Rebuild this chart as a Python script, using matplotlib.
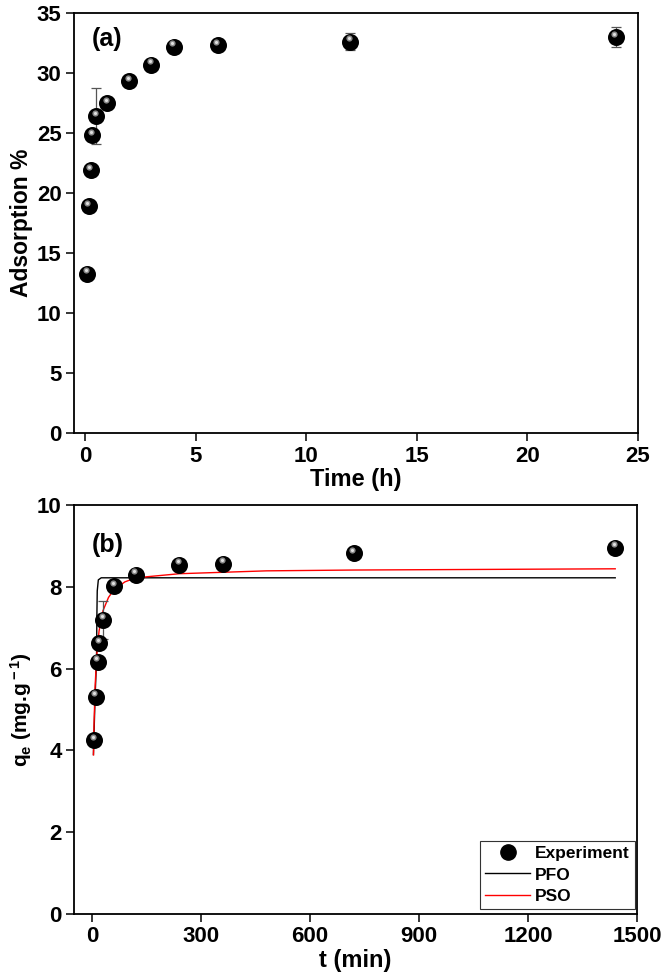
import matplotlib
matplotlib.use("Agg")
import matplotlib.pyplot as plt
import matplotlib.transforms as mtransforms
from matplotlib.lines import Line2D

plt.rcParams['font.family'] = ['Liberation Sans', 'DejaVu Sans']
plt.rcParams['font.weight'] = 'bold'
plt.rcParams['mathtext.fontset'] = 'custom'
plt.rcParams['mathtext.rm'] = 'Liberation Sans:bold'
plt.rcParams['mathtext.it'] = 'Liberation Sans:bold'
plt.rcParams['mathtext.bf'] = 'Liberation Sans:bold'

# (a) adsorption % vs time (h)
time_h = [0.083, 0.167, 0.25, 0.333, 0.5, 1, 2, 3, 4, 6, 12, 24]
adsorption = [13.3, 18.9, 21.9, 24.8, 26.4, 27.5, 29.3, 30.7, 32.2, 32.3, 32.6, 33.0]
adsorption_err = [0, 0, 0, 0, 2.35, 0, 0, 0, 0, 0, 0.7, 0.8]

# (b) qe vs t (min)
time_min = [5, 10, 15, 20, 30, 60, 120, 240, 360, 720, 1440]
qe = [4.25, 5.31, 6.17, 6.62, 7.19, 8.02, 8.29, 8.54, 8.56, 8.82, 8.95]
qe_err = [0, 0, 0, 0, 0.46, 0, 0, 0, 0, 0, 0]

# fitted curves
pfo_t = [3.5, 8, 12, 13, 14, 17, 25, 1440]
pfo_q = [3.9, 5.3, 6.2, 7.3, 7.9, 8.17, 8.22, 8.22]
pso_t = [3.6, 5, 8, 12, 19, 30, 45, 60, 90, 120, 240, 480, 720, 1440]
pso_q = [3.89, 4.58, 5.53, 6.26, 6.92, 7.42, 7.74, 7.93, 8.12, 8.22, 8.32, 8.39, 8.41, 8.44]

W, H = 661, 976
fig = plt.figure(figsize=(W / 100, H / 100), dpi=100)
ax_a = fig.add_axes([74 / W, 1 - 433.3 / H, 564 / W, 420.3 / H])
ax_b = fig.add_axes([74 / W, 1 - 914 / H, 563 / W, 409 / H])


def sphere(ax, x, y):
    # dark ball with a soft light spot, like the Origin sphere symbol
    ax.scatter(x, y, s=150, color='black', zorder=4, linewidths=0)
    off = mtransforms.ScaledTranslation(-1.0 / 72, 2.5 / 72, fig.dpi_scale_trans)
    ax.scatter(x, y, s=20, color='#8a8a8a', zorder=5, linewidths=0,
               transform=ax.transData + off)
    ax.scatter(x, y, s=5, color='#e0e0e0', zorder=6, linewidths=0,
               transform=ax.transData + off)


def style(ax):
    for sp in ax.spines.values():
        sp.set_linewidth(1.3)
    ax.tick_params(direction='out', length=6, width=1.1, labelsize=16,
                   top=False, right=False, pad=3)
    for lab in ax.get_xticklabels() + ax.get_yticklabels():
        lab.set_fontweight('bold')


# panel (a)
ax_a.errorbar(time_h, adsorption, yerr=adsorption_err, fmt='none',
              ecolor='#555555', elinewidth=0.9, capsize=3.5, capthick=0.9, zorder=3)
sphere(ax_a, time_h, adsorption)
ax_a.set_xlim(-0.5, 25)
ax_a.set_ylim(0, 35)
ax_a.set_xticks([0, 5, 10, 15, 20, 25])
ax_a.set_yticks([0, 5, 10, 15, 20, 25, 30, 35])
ax_a.set_xlabel('Time (h)', fontsize=17, fontweight='bold', labelpad=1)
ax_a.set_ylabel('Adsorption %', fontsize=16.5, fontweight='bold', labelpad=3)
ax_a.text(0.032, 0.967, '(a)', transform=ax_a.transAxes, fontsize=18,
          fontweight='bold', ha='left', va='top')
style(ax_a)

# panel (b)
ax_b.errorbar(time_min, qe, yerr=qe_err, fmt='none',
              ecolor='#555555', elinewidth=0.9, capsize=3.5, capthick=0.9, zorder=3)
ax_b.plot(pfo_t, pfo_q, color='black', lw=1.0, zorder=2)
ax_b.plot(pso_t, pso_q, color='red', lw=1.0, zorder=2)
sphere(ax_b, time_min, qe)
ax_b.set_xlim(-50, 1500)
ax_b.set_ylim(0, 10)
ax_b.set_xticks([0, 300, 600, 900, 1200, 1500])
ax_b.set_yticks([0, 2, 4, 6, 8, 10])
ax_b.set_xlabel('t (min)', fontsize=17, fontweight='bold', labelpad=1)
ax_b.set_ylabel(r'q$_{\rm e}$ (mg.g$^{\rm -1}$)', fontsize=15, fontweight='bold', labelpad=2)
ax_b.text(0.032, 0.932, '(b)', transform=ax_b.transAxes, fontsize=18,
          fontweight='bold', ha='left', va='top')
style(ax_b)

handles = [
    Line2D([], [], marker='o', color='black', ls='none', markersize=11),
    Line2D([], [], color='black', lw=1.0),
    Line2D([], [], color='red', lw=1.0),
]
leg = ax_b.legend(handles, ['Experiment', 'PFO', 'PSO'], loc='lower right',
                  bbox_to_anchor=(1.0, 0.008), borderaxespad=0.1,
                  fancybox=False, framealpha=1, edgecolor='#333333',
                  prop={'weight': 'bold', 'size': 12.5}, handlelength=2.6,
                  handletextpad=0.3, labelspacing=0.35, borderpad=0.3)
leg.get_frame().set_linewidth(0.8)

fig.savefig('out.png', dpi=100)
